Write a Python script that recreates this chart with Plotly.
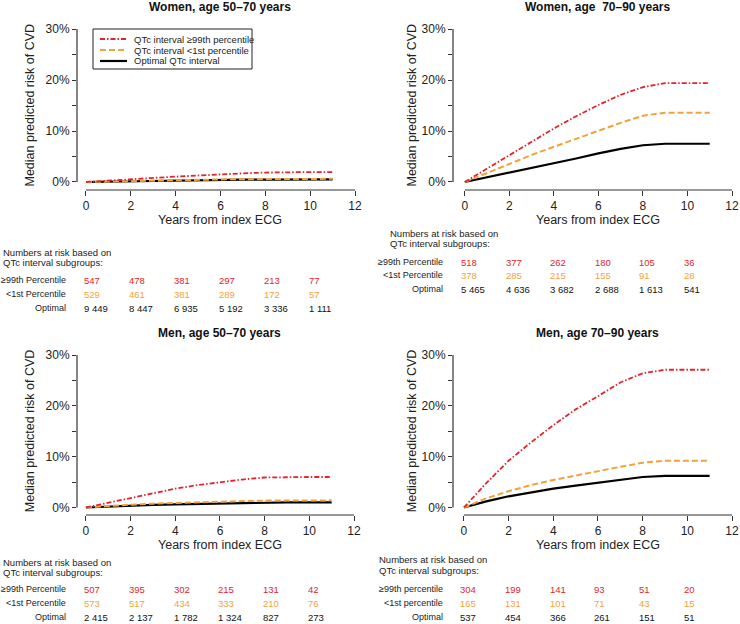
import plotly.graph_objects as go

W, H = 740, 624

years = [0, 1, 2, 3, 4, 5, 6, 7, 8, 9, 10, 11]
risk_years = [0, 2, 4, 6, 8, 10]

# Women 50-70
w5070_high = [0, 0.3, 0.55, 0.8, 1.05, 1.3, 1.5, 1.7, 1.85, 1.95, 1.95, 1.95]
w5070_low = [0, 0.1, 0.2, 0.3, 0.38, 0.45, 0.5, 0.55, 0.6, 0.62, 0.62, 0.62]
w5070_opt = [0, 0.08, 0.16, 0.24, 0.3, 0.36, 0.41, 0.45, 0.48, 0.5, 0.5, 0.5]
# Women 70-90
w7090_high = [0, 2.6, 5.2, 7.8, 10.5, 12.9, 15.1, 17.1, 18.6, 19.4, 19.4, 19.4]
w7090_low = [0, 1.8, 3.6, 5.3, 6.9, 8.5, 10.0, 11.6, 13.0, 13.6, 13.6, 13.6]
w7090_opt = [0, 0.9, 1.8, 2.7, 3.6, 4.6, 5.6, 6.5, 7.2, 7.5, 7.5, 7.5]
# Men 50-70
m5070_high = [0, 0.9, 1.8, 2.8, 3.7, 4.4, 5.0, 5.5, 5.9, 6.0, 6.0, 6.0]
m5070_low = [0, 0.3, 0.55, 0.75, 0.9, 1.05, 1.15, 1.25, 1.35, 1.4, 1.4, 1.4]
m5070_opt = [0, 0.2, 0.35, 0.5, 0.6, 0.7, 0.8, 0.88, 0.95, 1.0, 1.0, 1.0]
# Men 70-90
m7090_high = [0, 4.8, 9.2, 12.8, 16.2, 19.3, 21.9, 24.6, 26.4, 27.1, 27.1, 27.1]
m7090_low = [0, 1.8, 3.2, 4.4, 5.4, 6.3, 7.1, 8.0, 8.8, 9.2, 9.2, 9.2]
m7090_opt = [0, 1.2, 2.2, 3.0, 3.7, 4.3, 4.9, 5.5, 6.0, 6.2, 6.2, 6.2]

# Numbers at risk
w5070_n_high = ["547", "478", "381", "297", "213", "77"]
w5070_n_low = ["529", "461", "381", "289", "172", "57"]
w5070_n_opt = ["9 449", "8 447", "6 935", "5 192", "3 336", "1 111"]
w7090_n_high = ["518", "377", "262", "180", "105", "36"]
w7090_n_low = ["378", "285", "215", "155", "91", "28"]
w7090_n_opt = ["5 465", "4 636", "3 682", "2 688", "1 613", "541"]
m5070_n_high = ["507", "395", "302", "215", "131", "42"]
m5070_n_low = ["573", "517", "434", "333", "210", "76"]
m5070_n_opt = ["2 415", "2 137", "1 782", "1 324", "827", "273"]
m7090_n_high = ["304", "199", "141", "93", "51", "20"]
m7090_n_low = ["165", "131", "101", "71", "43", "15"]
m7090_n_opt = ["537", "454", "366", "261", "151", "51"]

x_ticks = [0, 2, 4, 6, 8, 10, 12]
y_ticks = [0, 5, 10, 15, 20, 25, 30]
y_ticktext = ["0%", "", "10%", "", "20%", "", "30%"]

RED = "#E3242B"
ORANGE = "#F2A23A"
BLACK = "#000000"
AXC = "#333333"
FONT = "Liberation Sans, Arial, sans-serif"

legend_labels = ["QTc interval \u226599th percentile", "QTc interval <1st percentile", "Optimal QTc interval"]

panels = [
    dict(title="<b>Women, age 50\u201370 years</b>", high=w5070_high, low=w5070_low, opt=w5070_opt,
         nh=w5070_n_high, nl=w5070_n_low, no=w5070_n_opt,
         xpx=(77, 355), xr=-0.4, ypx=(29, 190), yr=-1.57, ttl_y=7, ytitle_x=30,
         hdr=(1, 252, 262), rows=(280, 294, 308), lab_r=68, labels=("\u226599th Percentile", "<1st Percentile", "Optimal"), nshift=-3.5),
    dict(title="<b>Women, age\u00a0 70\u201390 years</b>", high=w7090_high, low=w7090_low, opt=w7090_opt,
         nh=w7090_n_high, nl=w7090_n_low, no=w7090_n_opt,
         xpx=(453, 732), xr=-0.53, ypx=(29, 190), yr=-1.57, ttl_y=7, ytitle_x=412,
         hdr=(388, 233, 244), rows=(262, 275, 289), lab_r=445, labels=("\u226599th Percentile", "<1st Percentile", "Optimal"), nshift=-5.5),
    dict(title="<b>Men, age 50\u201370 years</b>", high=m5070_high, low=m5070_low, opt=m5070_opt,
         nh=m5070_n_high, nl=m5070_n_low, no=m5070_n_opt,
         xpx=(77, 354), xr=-0.4, ypx=(355, 515), yr=-1.48, ttl_y=333, ytitle_x=30,
         hdr=(1, 562, 572), rows=(589, 603, 617), lab_r=68, labels=("\u226599th Percentile", "<1st Percentile", "Optimal"), nshift=-3.5),
    dict(title="<b>Men, age\u00a070\u201390 years</b>", high=m7090_high, low=m7090_low, opt=m7090_opt,
         nh=m7090_n_high, nl=m7090_n_low, no=m7090_n_opt,
         xpx=(453, 732), xr=-0.49, ypx=(355, 515), yr=-1.48, ttl_y=333, ytitle_x=412,
         hdr=(377, 559, 570), rows=(589, 603, 617), lab_r=445, labels=("\u226599th percentile", "<1st percentile", "Optimal"), nshift=-5.5),
]

fig = go.Figure()
layout = dict(template="none", width=W, height=H,
              margin=dict(l=0, r=0, t=0, b=0, pad=0, autoexpand=False), paper_bgcolor="white",
              plot_bgcolor="white", showlegend=False, font=dict(family=FONT, color="#222"))
annotations = []
shapes = []

def px_x(p):
    return p / W

def px_y(p):
    return 1 - p / H

for i, p in enumerate(panels, start=1):
    xa = "x" if i == 1 else f"x{i}"
    ya = "y" if i == 1 else f"y{i}"
    xkey = "xaxis" if i == 1 else f"xaxis{i}"
    ykey = "yaxis" if i == 1 else f"yaxis{i}"
    layout[xkey] = dict(domain=[px_x(p["xpx"][0]), px_x(p["xpx"][1])], range=[p["xr"], 12], anchor=ya,
                        tickvals=x_ticks, ticks="outside", ticklen=5, tickwidth=1.2, tickcolor=AXC,
                        showline=False, showgrid=False, zeroline=False, fixedrange=True, automargin=False,
                        tickfont=dict(size=12, color="#222"))
    layout[ykey] = dict(domain=[px_y(p["ypx"][1]), px_y(p["ypx"][0])], range=[p["yr"], 30], anchor=xa,
                        tickvals=y_ticks, ticktext=y_ticktext, ticks="outside", ticklen=4, tickwidth=1.2,
                        tickcolor=AXC, showline=False, showgrid=False, zeroline=False, fixedrange=True,
                        automargin=False, tickfont=dict(size=12, color="#222"))
    # axis lines (R-style detached axes)
    shapes.append(dict(type="line", xref=xa, yref=f"{ya} domain", x0=0, x1=12, y0=0, y1=0,
                       line=dict(color=AXC, width=1.2)))
    shapes.append(dict(type="line", xref=f"{xa} domain", yref=ya, x0=0, x1=0, y0=0, y1=30,
                       line=dict(color=AXC, width=1.2)))
    # traces
    fig.add_trace(go.Scatter(x=years, y=p["opt"], mode="lines", xaxis=xa, yaxis=ya,
                             line=dict(color=BLACK, width=2.2)))
    fig.add_trace(go.Scatter(x=years, y=p["low"], mode="lines", xaxis=xa, yaxis=ya,
                             line=dict(color=ORANGE, width=2, dash="6px,3px")))
    fig.add_trace(go.Scatter(x=years, y=p["high"], mode="lines", xaxis=xa, yaxis=ya,
                             line=dict(color=RED, width=1.8, dash="5px,2px,1.5px,2px")))
    # panel title
    annotations.append(dict(text=p["title"], xref=xa, yref="paper", x=6, y=px_y(p["ttl_y"]),
                            xanchor="center", yanchor="middle", showarrow=False,
                            font=dict(size=12, color="#111")))
    # x title
    annotations.append(dict(text="Years from index ECG", xref=xa, yref="paper", x=6,
                            y=px_y(p["ypx"][1] + 30), xanchor="center", yanchor="middle", showarrow=False,
                            font=dict(size=12.5, color="#222")))
    # y title
    y0px = p["ypx"][0]
    y_zero_px = p["ypx"][1] - (p["ypx"][1] - p["ypx"][0]) * (0 - p["yr"]) / (30 - p["yr"])
    annotations.append(dict(text="Median predicted risk of CVD", xref="paper", yref="paper",
                            x=px_x(p["ytitle_x"]), y=px_y((y0px + y_zero_px) / 2), textangle=-90,
                            xanchor="center", yanchor="middle", showarrow=False,
                            font=dict(size=12.5, color="#222")))
    # table header
    hx, hy1, hy2 = p["hdr"]
    for txt, hy in (("Numbers at risk based on", hy1), ("QTc interval subgroups:", hy2)):
        annotations.append(dict(text=txt, xref="paper", yref="paper", x=px_x(hx), y=px_y(hy),
                                xanchor="left", yanchor="middle", showarrow=False,
                                font=dict(size=9.5, color="#222")))
    # table rows
    for lab, vals, col, ry in zip(p["labels"], (p["nh"], p["nl"], p["no"]), (RED, ORANGE, "#111"), p["rows"]):
        annotations.append(dict(text=lab, xref="paper", yref="paper", x=px_x(p["lab_r"]), y=px_y(ry),
                                xanchor="right", yanchor="middle", showarrow=False,
                                font=dict(size=9, color="#222")))
        for yr_, v in zip(risk_years, vals):
            annotations.append(dict(text=v, xref=xa, yref="paper", x=yr_, y=px_y(ry), xshift=p["nshift"],
                                    xanchor="left", yanchor="middle", showarrow=False,
                                    font=dict(size=9.5, color=col)))

# manual legend (top-left panel)
shapes.append(dict(type="rect", xref="paper", yref="paper", x0=px_x(93), x1=px_x(252),
                   y0=px_y(69), y1=px_y(29), line=dict(color="#222", width=1), fillcolor="white", layer="below"))
leg_styles = [dict(color=RED, width=1.8, dash="5px,2px,1.5px,2px"),
              dict(color=ORANGE, width=2, dash="6px,3px"),
              dict(color=BLACK, width=2.2)]
for lab, st, ly in zip(legend_labels, leg_styles, (39, 50, 61)):
    shapes.append(dict(type="line", xref="paper", yref="paper", x0=px_x(100), x1=px_x(127),
                       y0=px_y(ly), y1=px_y(ly), line=st))
    annotations.append(dict(text=lab, xref="paper", yref="paper", x=px_x(132), y=px_y(ly),
                            xanchor="left", yanchor="middle", showarrow=False,
                            font=dict(size=9.5, color="#222")))

layout["annotations"] = annotations
layout["shapes"] = shapes
fig.update_layout(**layout)
fig.write_html("out.html", config={"displayModeBar": False},
               post_script="document.body.style.margin='0px';document.body.style.overflow='hidden';")
